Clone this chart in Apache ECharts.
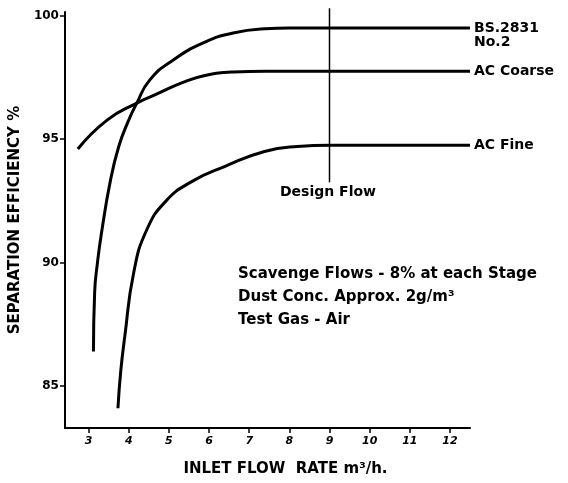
<!DOCTYPE html>
<html>
<head>
<meta charset="utf-8">
<script src="https://cdn.jsdelivr.net/npm/echarts@6/dist/echarts.min.js"></script>
<style>
  html, body { margin: 0; padding: 0; background: #fff; }
  #chart { width: 568px; height: 483px; }
</style>
</head>
<body>
<div id="chart"></div>
<script>
// Inlet flow rate (m3/h) vs separation efficiency (%) for three test dusts
const bsFlow = [3.12, 3.15, 3.22, 3.32, 3.54, 3.75, 3.98, 4.2, 4.52, 5.1, 5.9, 6.6, 7.4, 8.0, 9.0, 10.0, 11.0, 12.5];
const bsEff  = [86.4, 88.8, 90.0, 91.2, 93.3, 94.7, 95.7, 96.46, 97.39, 98.2, 98.93, 99.3, 99.47, 99.5, 99.5, 99.5, 99.5, 99.5];

const coarseFlow = [2.73, 3.46, 4.2, 4.69, 5.35, 5.9, 6.6, 7.4, 8.0, 9.0, 10.0, 11.0, 12.5];
const coarseEff  = [94.6, 95.77, 96.46, 96.82, 97.3, 97.58, 97.72, 97.75, 97.75, 97.75, 97.75, 97.75, 97.75];

const fineFlow = [3.73, 3.8, 3.9, 4.12, 4.44, 4.93, 5.59, 6.4, 7.38, 8.2, 9.0, 10.0, 11.0, 12.5];
const fineEff  = [84.1, 85.6, 87.0, 89.57, 91.3, 92.5, 93.3, 93.9, 94.5, 94.7, 94.75, 94.75, 94.75, 94.75];

const xTicks = [3, 4, 5, 6, 7, 8, 9, 10, 11, 12];
const yTicks = [85, 90, 95, 100];

// design flow marker: flow value and the efficiency span it covers
const designFlow = [9, 9];
const designSpan = [100.3, 93.25];

const notes = [
  'Scavenge Flows - 8% at each Stage',
  'Dust Conc. Approx. 2g/m\u00b3',
  'Test Gas - Air'
];

const FONT = '"DejaVu Sans", "Liberation Sans", sans-serif';
const INK = '#000';

function pairs(xs, ys) { return xs.map((x, i) => [x, ys[i]]); }

function curve(name, xs, ys, labelText, labelOffset) {
  return {
    type: 'line',
    name: name,
    data: pairs(xs, ys),
    smooth: 0.5,
    symbol: 'none',
    clip: false,
    lineStyle: { color: INK, width: 3 },
    endLabel: {
      show: true,
      formatter: labelText,
      distance: 4,
      offset: labelOffset,
      color: INK,
      fontFamily: FONT,
      fontWeight: 'bold',
      fontSize: 14,
      lineHeight: 14,
      align: 'left'
    }
  };
}

const chart = echarts.init(document.getElementById('chart'), null, { renderer: 'canvas' });

const series = [
  curve('BS.2831 No.2', bsFlow, bsEff, 'BS.2831\nNo.2', [0, 7]),
  curve('AC Coarse', coarseFlow, coarseEff, 'AC Coarse', [0, 0]),
  curve('AC Fine', fineFlow, fineEff, 'AC Fine', [0, 0]),
  {
    type: 'line',
    name: 'Design Flow',
    data: pairs(designFlow, designSpan),
    symbol: 'none',
    clip: false,
    silent: true,
    lineStyle: { color: INK, width: 1.5 }
  }
];

chart.setOption({
  backgroundColor: '#fff',
  animation: false,
  grid: { left: 57, right: 98, top: 12, bottom: 55 },
  xAxis: {
    type: 'value',
    min: 2.41,
    max: 12.5,
    name: 'INLET FLOW  RATE m\u00b3/h.',
    nameLocation: 'middle',
    nameGap: 34,
    nameTextStyle: { color: INK, fontFamily: FONT, fontWeight: 'bold', fontSize: 15, padding: [0, 0, 0, 36] },
    axisLine: { show: true, lineStyle: { color: INK, width: 2 } },
    axisTick: { show: true, length: 5, lineStyle: { color: INK, width: 1.5 }, customValues: xTicks },
    axisLabel: {
      color: INK, fontFamily: FONT, fontWeight: 'bold', fontStyle: 'italic', fontSize: 11, margin: 8,
      customValues: xTicks
    },
    splitLine: { show: false }
  },
  yAxis: {
    type: 'value',
    min: 83.3,
    max: 100.15,
    name: 'SEPARATION EFFICIENCY %',
    nameLocation: 'middle',
    nameGap: 39,
    nameTextStyle: { color: INK, fontFamily: FONT, fontWeight: 'bold', fontSize: 15 },
    axisLine: { show: true, lineStyle: { color: INK, width: 2 } },
    axisTick: { show: true, length: 5, lineStyle: { color: INK, width: 1.5 }, customValues: yTicks },
    axisLabel: {
      color: INK, fontFamily: FONT, fontWeight: 'bold', fontSize: 12, margin: 6,
      customValues: yTicks
    },
    splitLine: { show: false }
  },
  graphic: [
    {
      type: 'text',
      left: 280,
      top: 185,
      style: { text: 'Design Flow', fill: INK, font: 'bold 14px ' + FONT }
    }
  ].concat(notes.map((t, i) => ({
    type: 'text',
    left: 238,
    top: 267 + i * 23,
    style: { text: t, fill: INK, font: 'bold 15px ' + FONT }
  }))),
  series: series
});
</script>
</body>
</html>
